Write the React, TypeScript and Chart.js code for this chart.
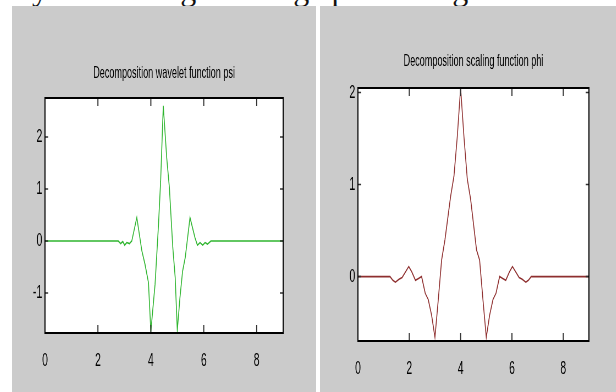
import React, { useEffect, useRef } from "react";
import { Chart, registerables } from "chart.js";
Chart.register(...registerables);

// ---------- data ----------
const xTicks = [0, 2, 4, 6, 8];
const psiYTicks = [-1, 0, 1, 2];
const phiYTicks = [0, 1, 2];
const psiTitle = "Decomposition wavelet function psi";
const phiTitle = "Decomposition scaling function phi";
const topText = "ly used in digital image processing.";

const psiX = [0, 2.77, 2.86, 2.94, 3.01, 3.09, 3.19, 3.28, 3.47, 3.66, 3.78, 3.91, 4.0, 4.16, 4.29, 4.37, 4.47, 4.6, 4.7, 4.83, 4.92, 5.0, 5.1, 5.2, 5.3, 5.48, 5.67, 5.76, 5.86, 5.96, 6.05, 6.14, 6.27, 9];
const psiY = [0, 0, -0.05, -0.01, -0.08, -0.03, -0.05, 0, 0.45, -0.19, -0.45, -0.8, -1.74, -0.83, 0.32, 1.15, 2.6, 1.6, 1.03, -0.13, -0.7, -1.72, -1.09, -0.58, -0.32, 0.45, 0.06, -0.08, -0.03, -0.08, -0.03, -0.06, 0, 0];

const phiX = [0, 1.25, 1.36, 1.46, 1.6, 1.72, 1.98, 2.1, 2.24, 2.36, 2.48, 2.62, 2.74, 2.87, 3.0, 3.13, 3.26, 3.39, 3.61, 3.74, 3.87, 4.0, 4.13, 4.26, 4.39, 4.62, 4.74, 4.87, 5.0, 5.13, 5.26, 5.38, 5.52, 5.64, 5.76, 5.9, 6.02, 6.28, 6.4, 6.54, 6.64, 6.75, 9];
const phiY = [0, 0, -0.04, -0.06, -0.03, -0.01, 0.11, 0.05, -0.04, -0.02, 0, -0.18, -0.25, -0.42, -0.66, -0.25, 0.18, 0.4, 0.87, 1.09, 1.52, 2.05, 1.52, 1.06, 0.84, 0.29, 0.18, -0.25, -0.66, -0.42, -0.25, -0.18, 0, -0.02, -0.04, 0.05, 0.11, -0.01, -0.03, -0.06, -0.04, 0, 0];

const psiRange = [-1.77, 2.75];
const phiRange = [-0.7, 2.05];

// ---------- styling ----------
const SX = 0.55;
const FONT = "'Liberation Sans', Arial, sans-serif";
const GRAY = "#cbcbcb";

const boxPlugin = {
  id: "matlabBox",
  beforeDraw(chart: any) {
    const { ctx, chartArea: a } = chart;
    ctx.save();
    ctx.fillStyle = "#ffffff";
    ctx.fillRect(a.left, a.top, a.right - a.left, a.bottom - a.top);
    ctx.restore();
  },
  afterDatasetsDraw(chart: any) {
    const { ctx, chartArea: a, scales } = chart;
    ctx.save();
    ctx.strokeStyle = "#333";
    ctx.lineWidth = 2;
    ctx.beginPath();
    for (const t of scales.x.ticks) {
      const px = scales.x.getPixelForValue(t.value);
      ctx.moveTo(px, a.bottom);
      ctx.lineTo(px, a.bottom - 8);
      ctx.moveTo(px, a.top);
      ctx.lineTo(px, a.top + 8);
    }
    ctx.stroke();
    ctx.lineWidth = 1.5;
    ctx.beginPath();
    for (const t of scales.y.ticks) {
      const py = scales.y.getPixelForValue(t.value);
      ctx.moveTo(a.left, py);
      ctx.lineTo(a.left + 6, py);
      ctx.moveTo(a.right, py);
      ctx.lineTo(a.right - 6, py);
    }
    ctx.stroke();
    ctx.strokeStyle = "#000";
    ctx.lineWidth = 2;
    ctx.strokeRect(a.left, a.top, a.right - a.left, a.bottom - a.top);
    ctx.restore();
  },
};

type Cfg = {
  left: number;
  top: number;
  iw: number;
  ih: number;
  padRight: number;
  yW: number;
  xH: number;
  tTop: number;
  tBottom: number;
  title: string;
  xs: number[];
  ys: number[];
  yTicks: number[];
  range: number[];
  color: string;
};

function Panel({ cfg }: { cfg: Cfg }) {
  const ref = useRef<HTMLCanvasElement | null>(null);
  useEffect(() => {
    if (!ref.current) return;
    const tickFont = { family: FONT, size: 19 };
    const chart = new Chart(ref.current, {
      type: "line",
      data: {
        datasets: [
          {
            data: cfg.xs.map((x, i) => ({ x, y: cfg.ys[i] })),
            borderColor: cfg.color,
            borderWidth: 1.6,
            pointRadius: 0,
            tension: 0,
            fill: false,
          },
        ],
      },
      options: {
        animation: false,
        responsive: false,
        maintainAspectRatio: false,
        devicePixelRatio: 1,
        layout: { padding: { left: 0, right: cfg.padRight, top: 0, bottom: 0 } },
        plugins: {
          legend: { display: false },
          tooltip: { enabled: false },
          title: {
            display: true,
            text: cfg.title,
            fullSize: false,
            color: "#000",
            font: { family: FONT, size: 16.5, weight: "normal", lineHeight: 1.2 },
            padding: { top: cfg.tTop, bottom: cfg.tBottom },
          },
        },
        scales: {
          x: {
            type: "linear",
            min: 0,
            max: 9,
            afterBuildTicks: (s: any) => {
              s.ticks = xTicks.map((v) => ({ value: v }));
            },
            afterFit: (s: any) => {
              s.height = cfg.xH;
            },
            grid: { display: false, drawTicks: false },
            border: { display: false },
            ticks: { font: tickFont, color: "#000", padding: 16, maxRotation: 0, autoSkip: false },
          },
          y: {
            type: "linear",
            min: cfg.range[0],
            max: cfg.range[1],
            afterBuildTicks: (s: any) => {
              s.ticks = cfg.yTicks.map((v) => ({ value: v }));
            },
            afterFit: (s: any) => {
              s.width = cfg.yW;
            },
            grid: { display: false, drawTicks: false },
            border: { display: false },
            ticks: { font: tickFont, color: "#000", padding: 5, autoSkip: false },
          },
        },
      } as any,
      plugins: [boxPlugin],
    });
    return () => chart.destroy();
  }, []);
  return (
    <div
      style={{
        position: "absolute",
        left: cfg.left,
        top: cfg.top,
        width: cfg.iw,
        height: cfg.ih,
        transform: `scaleX(${SX})`,
        transformOrigin: "0 0",
      }}
    >
      <canvas
        ref={ref}
        width={cfg.iw}
        height={cfg.ih}
        style={{ display: "block", width: cfg.iw, height: cfg.ih, background: GRAY }}
      />
    </div>
  );
}

const leftCfg: Cfg = {
  left: 12,
  top: 6,
  iw: 553,
  ih: 386,
  padRight: 60,
  yW: 60,
  xH: 59,
  tTop: 57.8,
  tBottom: 14.4,
  title: psiTitle,
  xs: psiX,
  ys: psiY,
  yTicks: psiYTicks,
  range: psiRange,
  color: "#2fb52f",
};

const rightCfg: Cfg = {
  left: 320,
  top: 6,
  iw: 538,
  ih: 386,
  padRight: 49,
  yW: 69,
  xH: 51,
  tTop: 45.8,
  tBottom: 16.4,
  title: phiTitle,
  xs: phiX,
  ys: phiY,
  yTicks: phiYTicks,
  range: phiRange,
  color: "#8e2e2e",
};

export default function App() {
  return (
    <div
      style={{
        position: "absolute",
        left: 0,
        top: 0,
        width: 616,
        height: 392,
        background: "#ffffff",
        overflow: "hidden",
      }}
    >
      <div
        style={{
          position: "absolute",
          left: 23,
          top: -27,
          fontFamily: "'Liberation Serif', 'Times New Roman', serif",
          fontSize: 32,
          lineHeight: "32px",
          whiteSpace: "nowrap",
          color: "#111",
        }}
      >
        {topText}
      </div>
      <Panel cfg={leftCfg} />
      <Panel cfg={rightCfg} />
    </div>
  );
}
